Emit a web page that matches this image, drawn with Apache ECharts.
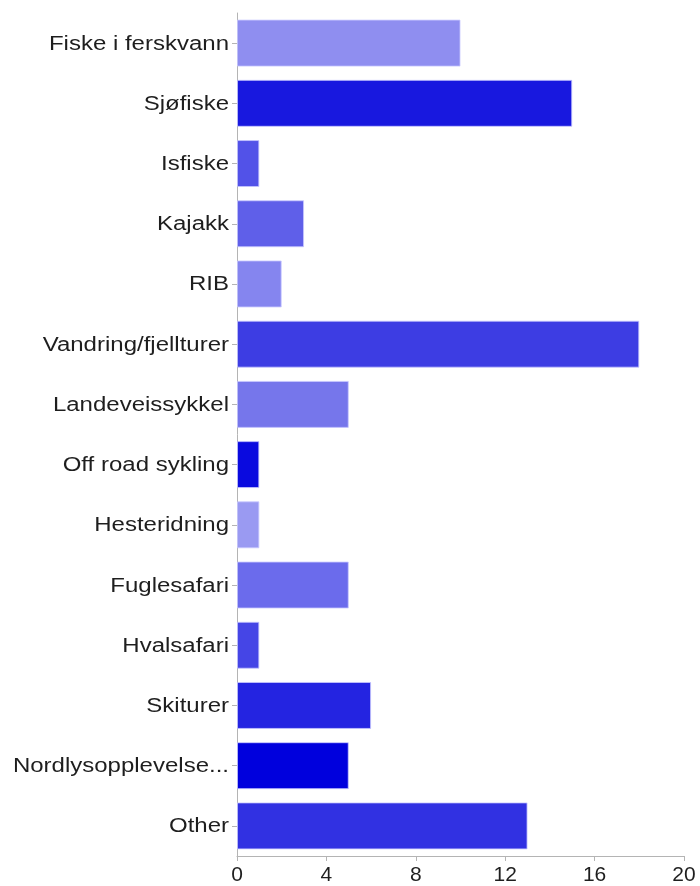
<!DOCTYPE html>
<html>
<head>
<meta charset="utf-8">
<script src="https://cdn.jsdelivr.net/npm/echarts@6/dist/echarts.min.js"></script>
<style>
  html, body { margin: 0; padding: 0; background: #fff; }
  #chart { width: 700px; height: 886px; }
</style>
</head>
<body>
<div id="chart"></div>
<script>
// Activities, top to bottom
const categories = [
  "Fiske i ferskvann", "Sjøfiske", "Isfiske", "Kajakk", "RIB",
  "Vandring/fjellturer", "Landeveissykkel", "Off road sykling", "Hesteridning",
  "Fuglesafari", "Hvalsafari", "Skiturer", "Nordlysopplevelse...", "Other"
];
const counts = [10, 15, 1, 3, 2, 18, 5, 1, 1, 5, 1, 6, 5, 13];
const barColors = [
  "#8f8ef0", "#1818df", "#5252e8", "#5f5fe9", "#8585ef",
  "#3d3de3", "#7676eb", "#0a0adf", "#9a9af2",
  "#6b6bec", "#4545e6", "#2424e1", "#0000dd", "#3131e2"
];
const xTicks = [0, 4, 8, 12, 16, 20];

const labelFont = "Liberation Sans, Arial, Helvetica, sans-serif";
const gridLeft = 237;
const chart = echarts.init(document.getElementById("chart"), null, { renderer: "canvas" });

chart.setOption({
  animation: false,
  grid: { left: gridLeft, right: 16, top: 13, bottom: 28, containLabel: false },
  xAxis: {
    type: "value",
    min: xTicks[0],
    max: xTicks[xTicks.length - 1],
    interval: xTicks[1] - xTicks[0],
    axisLine: { show: true, lineStyle: { color: "#b4b4b4", width: 1 } },
    axisTick: { show: true, length: 5, lineStyle: { color: "#b4b4b4" } },
    splitLine: { show: false },
    axisLabel: { color: "#1e1e1e", fontSize: 21, margin: 9, fontFamily: labelFont }
  },
  yAxis: {
    type: "category",
    data: categories,
    inverse: true,
    axisLine: { show: true, lineStyle: { color: "#b4b4b4", width: 1 } },
    axisTick: { show: true, length: 5, alignWithLabel: true, lineStyle: { color: "#b4b4b4" } },
    axisLabel: { show: false }
  },
  series: [{
    type: "bar",
    barWidth: "78%",
    data: counts.map((v, i) => ({
      value: v,
      itemStyle: { color: barColors[i], borderColor: "rgba(200,200,255,0.8)", borderWidth: 1 }
    }))
  }]
});

// Category labels drawn as slightly widened text, placed at each category's axis position
const labelGap = 8;
chart.setOption({
  graphic: categories.map((name) => {
    const y = chart.convertToPixel({ yAxisIndex: 0 }, name);
    return {
      type: "text",
      x: gridLeft - labelGap,
      y: y + 1,
      scaleX: 1.2,
      silent: true,
      style: {
        text: name,
        align: "right",
        verticalAlign: "middle",
        fill: "#1e1e1e",
        font: "20px " + labelFont
      }
    };
  })
});
</script>
</body>
</html>
